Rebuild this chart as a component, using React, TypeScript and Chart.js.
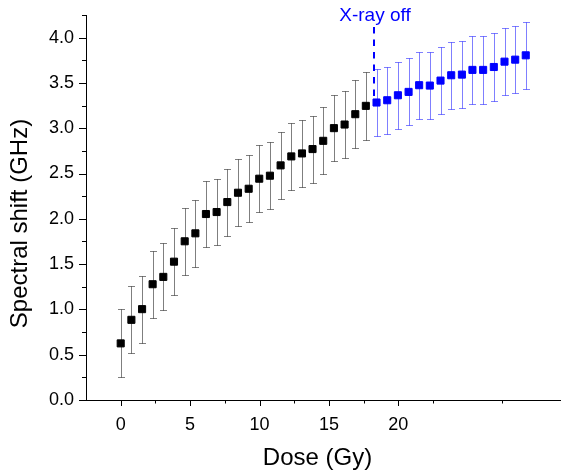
import { useEffect, useRef } from 'react';
import { Chart, registerables } from 'chart.js';

Chart.register(...registerables);

// ---- data ----
const irradiatedDose = [
  0, 0.77, 1.54, 2.3, 3.07, 3.84, 4.61, 5.38, 6.14, 6.91, 7.68, 8.45,
  9.22, 9.98, 10.75, 11.52, 12.29, 13.06, 13.82, 14.59, 15.36, 16.13, 16.9, 17.66,
];
const irradiatedShift = [
  0.625, 0.885, 1.003, 1.278, 1.359, 1.527, 1.752, 1.84, 2.053, 2.075, 2.185, 2.288,
  2.332, 2.443, 2.476, 2.59, 2.689, 2.722, 2.77, 2.861, 3.001, 3.041, 3.155, 3.247,
];
const irradiatedErr = [
  0.375, 0.37, 0.37, 0.37, 0.37, 0.37, 0.37, 0.37, 0.367, 0.369, 0.37, 0.37,
  0.372, 0.372, 0.371, 0.37, 0.37, 0.37, 0.37, 0.37, 0.367, 0.367, 0.375, 0.375,
];

const afterOffDose = [
  18.43, 19.2, 19.97, 20.74, 21.5, 22.27, 23.04, 23.81, 24.58, 25.34, 26.11, 26.88,
  27.65, 28.42, 29.18,
];
const afterOffShift = [
  3.284, 3.309, 3.364, 3.401, 3.475, 3.471, 3.526, 3.585, 3.592, 3.644, 3.644, 3.676,
  3.735, 3.757, 3.805,
];
const afterOffErr = [
  0.371, 0.369, 0.369, 0.37, 0.37, 0.37, 0.372, 0.37, 0.37, 0.372, 0.372, 0.37,
  0.37, 0.37, 0.37,
];

const xTickValues = [0, 2.5, 5, 7.5, 10, 12.5, 15, 17.5, 20, 22.5, 27.5];
const xTickLabels = ['0', '', '5', '', '10', '', '15', '', '20', '', ''];
const yTickValues = [0, 0.25, 0.5, 0.75, 1, 1.25, 1.5, 1.75, 2, 2.25, 2.5, 2.75, 3, 3.25, 3.5, 3.75, 4, 4.25];
const yTickLabels = ['0.0', '', '0.5', '', '1.0', '', '1.5', '', '2.0', '', '2.5', '', '3.0', '', '3.5', '', '4.0', ''];

const X_MIN = -2.5;
const X_MAX = 31.72;
const Y_MIN = 0;
const Y_MAX = 4.25;

const xrayOffDose = 18.25;
const xrayLineTop = 4.117;
const xrayLineBottom = 3.345;
const xrayLabel = 'X-ray off';

const xTitle = 'Dose (Gy)';
const yTitle = 'Spectral shift (GHz)';

const FONT = "'Liberation Sans', Arial, sans-serif";

const series = [
  { dose: irradiatedDose, shift: irradiatedShift, err: irradiatedErr, color: '#000000', errColor: 'rgba(0,0,0,0.5)' },
  { dose: afterOffDose, shift: afterOffShift, err: afterOffErr, color: '#0000ff', errColor: 'rgba(0,0,255,0.5)' },
];

const errorBarPlugin = {
  id: 'errorBars',
  beforeDatasetsDraw(chart: any) {
    const { ctx } = chart;
    const xs = chart.scales.x;
    const ys = chart.scales.y;
    series.forEach((s) => {
      ctx.save();
      ctx.strokeStyle = s.errColor;
      ctx.lineWidth = 1;
      s.dose.forEach((d, i) => {
        const px = Math.round(xs.getPixelForValue(d)) + 0.5;
        const yt = Math.round(ys.getPixelForValue(s.shift[i] + s.err[i])) + 0.5;
        const yb = Math.round(ys.getPixelForValue(s.shift[i] - s.err[i])) + 0.5;
        ctx.beginPath();
        ctx.moveTo(px, yt);
        ctx.lineTo(px, yb);
        ctx.moveTo(px - 3.5, yt);
        ctx.lineTo(px + 3.5, yt);
        ctx.moveTo(px - 3.5, yb);
        ctx.lineTo(px + 3.5, yb);
        ctx.stroke();
      });
      ctx.restore();
    });
  },
};

const decorPlugin = {
  id: 'decor',
  afterDraw(chart: any) {
    const { ctx, chartArea } = chart;
    const xs = chart.scales.x;
    const ys = chart.scales.y;
    ctx.save();
    ctx.strokeStyle = '#000';
    ctx.lineWidth = 1;
    ctx.beginPath();
    xTickValues.forEach((v, i) => {
      const px = Math.round(xs.getPixelForValue(v)) + 0.5;
      const len = xTickLabels[i] ? 6 : 3.5;
      ctx.moveTo(px, chartArea.bottom);
      ctx.lineTo(px, chartArea.bottom + len);
    });
    yTickValues.forEach((v, i) => {
      const py = Math.round(ys.getPixelForValue(v)) + 0.5;
      const len = yTickLabels[i] ? 7 : 4;
      ctx.moveTo(chartArea.left, py);
      ctx.lineTo(chartArea.left - len, py);
    });
    ctx.stroke();

    // axis titles
    ctx.fillStyle = '#000';
    ctx.font = `24px ${FONT}`;
    ctx.textAlign = 'center';
    ctx.textBaseline = 'alphabetic';
    ctx.fillText(xTitle, 317.5, 465);
    ctx.save();
    ctx.translate(26.7, 223.5);
    ctx.rotate(-Math.PI / 2);
    ctx.fillText(yTitle, 0, 0);
    ctx.restore();

    // X-ray off annotation
    const lx = Math.round(xs.getPixelForValue(xrayOffDose));
    ctx.strokeStyle = '#0000ff';
    ctx.lineWidth = 2;
    ctx.setLineDash([6.5, 6]);
    ctx.beginPath();
    ctx.moveTo(lx, ys.getPixelForValue(xrayLineTop));
    ctx.lineTo(lx, ys.getPixelForValue(xrayLineBottom));
    ctx.stroke();
    ctx.setLineDash([]);
    ctx.fillStyle = '#0000ff';
    ctx.font = `19px ${FONT}`;
    ctx.fillText(xrayLabel, lx + 1, 21);
    ctx.restore();
  },
};

export default function App() {
  const canvasRef = useRef<HTMLCanvasElement | null>(null);

  useEffect(() => {
    const canvas = canvasRef.current;
    if (!canvas) return;
    const chart = new Chart(canvas, {
      type: 'scatter',
      data: {
        datasets: series.map((s) => ({
          data: s.dose.map((d, i) => ({ x: d, y: s.shift[i] })),
          backgroundColor: s.color,
          borderColor: s.color,
          borderWidth: 1,
          pointStyle: 'rect',
          pointRadius: 5,
          showLine: false,
        })),
      },
      options: {
        animation: false,
        responsive: false,
        maintainAspectRatio: false,
        devicePixelRatio: 1,
        layout: { autoPadding: false, padding: { top: 15, right: 0, left: 0, bottom: 0 } },
        plugins: { legend: { display: false }, tooltip: { enabled: false } },
        scales: {
          x: {
            type: 'linear',
            min: X_MIN,
            max: X_MAX,
            afterBuildTicks: (scale: any) => {
              scale.ticks = xTickValues.map((v) => ({ value: v }));
            },
            afterFit: (scale: any) => {
              scale.height = 73;
              scale.paddingLeft = 0;
              scale.paddingRight = 0;
            },
            ticks: {
              autoSkip: false,
              maxRotation: 0,
              padding: 8,
              color: '#000',
              font: { family: FONT, size: 18 },
              callback: (_v: any, i: number) => xTickLabels[i],
            },
            grid: {
              display: true,
              drawOnChartArea: false,
              drawTicks: true,
              tickLength: 6,
              color: 'rgba(0,0,0,0)',
            },
            border: { display: true, color: '#000', width: 1 },
          },
          y: {
            type: 'linear',
            min: Y_MIN,
            max: Y_MAX,
            afterBuildTicks: (scale: any) => {
              scale.ticks = yTickValues.map((v) => ({ value: v }));
            },
            afterFit: (scale: any) => {
              scale.width = 86;
              scale.paddingTop = 0;
              scale.paddingBottom = 0;
            },
            ticks: {
              autoSkip: false,
              padding: 5,
              color: '#000',
              font: { family: FONT, size: 18 },
              callback: (_v: any, i: number) => yTickLabels[i],
            },
            grid: {
              display: true,
              drawOnChartArea: false,
              drawTicks: true,
              tickLength: 7,
              color: 'rgba(0,0,0,0)',
            },
            border: { display: true, color: '#000', width: 1 },
          },
        },
      },
      plugins: [errorBarPlugin, decorPlugin],
    });
    return () => chart.destroy();
  }, []);

  return (
    <div style={{ position: 'fixed', left: 0, top: 0, width: 561, height: 473, background: '#fff' }}>
      <canvas ref={canvasRef} width={561} height={473} style={{ display: 'block' }} />
    </div>
  );
}
